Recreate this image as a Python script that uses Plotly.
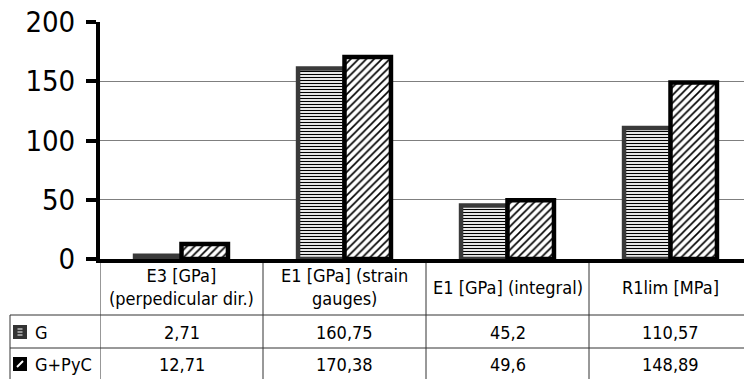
import plotly.graph_objects as go

categories = ["E3 [GPa]<br>(perpedicular dir.)", "E1 [GPa] (strain<br>gauges)",
              "E1 [GPa] (integral)", "R1lim [MPa]"]
series_names = ["G", "G+PyC"]
g_values = [2.71, 160.75, 45.2, 110.57]
gpyc_values = [12.71, 170.38, 49.6, 148.89]
y_ticks = [0, 50, 100, 150, 200]

W, H = 744, 379
L, T, BOT = 100, 22, 259
PW, PH = W - L, BOT - T
COLW = 163.0
FONT = "DejaVu Sans Condensed, DejaVu Sans, sans-serif"


def xp(px):
    return (px - L) / PW


def yp(py):
    return (BOT - py) / PH


def fmt(v):
    return str(v).replace(".", ",")


fig = go.Figure()
fig.add_trace(go.Bar(
    x=categories, y=g_values, name=series_names[0],
    marker=dict(color="white", line=dict(color="#3a3a3a", width=4.5),
                pattern=dict(shape="-", size=3, solidity=0.4, fgcolor="black",
                             bgcolor="white", fillmode="replace")),
))
fig.add_trace(go.Bar(
    x=categories, y=gpyc_values, name=series_names[1],
    marker=dict(color="white", line=dict(color="black", width=4.5),
                pattern=dict(shape="/", size=5.5, solidity=0.3, fgcolor="black",
                             bgcolor="white", fillmode="replace")),
))

shapes = []
annotations = []
LINE = dict(color="#333333", width=1)

header_bottom = 315
row1_bottom = 348
table_bottom = 390
legend_left = 10

ncat = len(categories)
for i in range(ncat + 1):
    xb = i - 0.5
    shapes.append(dict(type="line", xref="x", yref="paper", x0=xb, x1=xb,
                       y0=yp(BOT), y1=yp(table_bottom), line=LINE, layer="below"))
shapes.append(dict(type="line", xref="paper", yref="paper", x0=xp(legend_left), x1=xp(legend_left),
                   y0=yp(header_bottom), y1=yp(table_bottom), line=LINE))
for yy in [header_bottom, row1_bottom]:
    shapes.append(dict(type="line", xref="paper", yref="paper", x0=xp(legend_left), x1=1.0,
                       y0=yp(yy), y1=yp(yy), line=LINE))

TFS = 18
for i, c in enumerate(categories):
    annotations.append(dict(x=i, y=yp((BOT + header_bottom) / 2), xref="x", yref="paper",
                            text=c, showarrow=False, xanchor="center", yanchor="middle",
                            font=dict(family=FONT, size=TFS, color="black")))

k1y = 332
k2y = 364
rows = [(series_names[0], g_values, k1y), (series_names[1], gpyc_values, k2y)]
for name, vals, yc in rows:
    annotations.append(dict(x=xp(33), y=yp(yc), xref="paper", yref="paper", text=name,
                            showarrow=False, xanchor="left", yanchor="middle",
                            font=dict(family=FONT, size=TFS, color="black")))
    for i, v in enumerate(vals):
        annotations.append(dict(x=i, y=yp(yc), xref="x", yref="paper", text=fmt(v),
                                showarrow=False, xanchor="center", yanchor="middle",
                                font=dict(family=FONT, size=TFS, color="black")))

# legend keys
shapes.append(dict(type="rect", xref="paper", yref="paper", x0=xp(13), x1=xp(27),
                   y0=yp(k1y - 7), y1=yp(k1y + 7), fillcolor="#333333", line=dict(width=0)))
for dy in [-3, 0, 3]:
    shapes.append(dict(type="line", xref="paper", yref="paper", x0=xp(17.5), x1=xp(22.5),
                       y0=yp(k1y + dy), y1=yp(k1y + dy), line=dict(color="white", width=1)))
shapes.append(dict(type="rect", xref="paper", yref="paper", x0=xp(13), x1=xp(27),
                   y0=yp(k2y - 7), y1=yp(k2y + 7), fillcolor="black", line=dict(width=0)))
shapes.append(dict(type="line", xref="paper", yref="paper", x0=xp(17), x1=xp(23),
                   y0=yp(k2y + 3), y1=yp(k2y - 3), line=dict(color="white", width=2)))

fig.update_layout(
    width=W, height=H,
    margin=dict(l=L, r=0, t=T, b=H - BOT),
    paper_bgcolor="white", plot_bgcolor="white",
    barmode="group", bargap=0.43, bargroupgap=0,
    showlegend=False,
    font=dict(family=FONT, color="black"),
    shapes=shapes, annotations=annotations,
    xaxis=dict(type="category", range=[-0.5, -0.5 + PW / COLW], showticklabels=False,
               ticks="", showgrid=False, showline=True, linecolor="black", linewidth=4,
               zeroline=False, fixedrange=True),
    yaxis=dict(range=[0, 200], tickvals=y_ticks, showgrid=True, gridcolor="#7f7f7f",
               gridwidth=1, showline=True, linecolor="black", linewidth=4,
               ticks="outside", ticklen=10, tickwidth=4, tickcolor="black",
               tickfont=dict(family=FONT, size=29, color="black"),
               ticklabelstandoff=5, zeroline=False, fixedrange=True),
)

fig.write_html("out.html", config={"displayModeBar": False},
               post_script="document.body.style.margin='0px';")
